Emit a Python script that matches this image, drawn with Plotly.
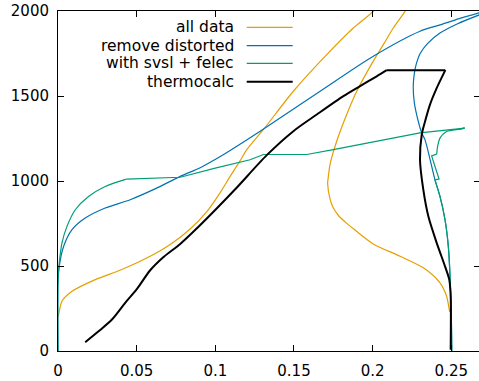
import plotly.graph_objects as go

# ---- data ----
all_data_x = [0.0, 0.0004, 0.0025, 0.0089, 0.0237, 0.0406, 0.0586, 0.0713, 0.0840, 0.0946, 0.1031,
              0.1094, 0.1158, 0.1200, 0.1306, 0.1496, 0.1708, 0.1877, 0.2004, 0.2020,
              None,
              0.2225, 0.2206, 0.2131, 0.2068, 0.2004, 0.1899, 0.1835, 0.1772, 0.1729, 0.1719, 0.1714,
              0.1729, 0.1748, 0.1780, 0.1830, 0.1890, 0.2004, 0.2174, 0.2322, 0.2428, 0.2470, 0.2487,
              0.2490]
all_data_y = [200, 214, 293, 351, 420, 479, 557, 626, 718, 820, 932,
              1027, 1120, 1184, 1303, 1528, 1743, 1900, 1998, 2020,
              None,
              2030, 1998, 1900, 1802, 1705, 1528, 1391, 1235, 1097, 1030, 985,
              895, 845, 800, 755, 710, 630, 557, 489, 401, 322, 244,
              230]

remove_x = [0.0, 0.0, 0.0008, 0.0036, 0.0089, 0.0173, 0.0300, 0.0459, 0.0620, 0.0777, 0.0904,
            0.0999, 0.1094, 0.1285, 0.1666, 0.2004, 0.2301, 0.2428, 0.2550, 0.2680,
            None,
            0.2680, 0.2540, 0.2428, 0.2350, 0.2302, 0.2275, 0.2263, 0.2258, 0.2265, 0.2280, 0.2312,
            0.2333, 0.2396, 0.2428, 0.2460, 0.2481, 0.2491, 0.2500, 0.2503]
remove_y = [0, 400, 498, 616, 714, 782, 841, 890, 955, 1027, 1078,
            1127, 1180, 1293, 1528, 1734, 1881, 1918, 1955, 1990,
            None,
            1978, 1925, 1870, 1810, 1750, 1680, 1620, 1546, 1460, 1389, 1282,
            1242, 1007, 909, 772, 616, 459, 200, 0]

svsl_x = [0.0, 0.0, 0.0008, 0.0025, 0.0057, 0.0110, 0.0194, 0.0300, 0.0435, 0.0777, 0.0999, 0.1221,
          0.1306, 0.1581, 0.1750, 0.2301, 0.2555, 0.2585,
          0.2555, 0.2470, 0.2428, 0.2413, 0.2407, 0.2375, 0.2422, 0.2396,
          0.2428, 0.2460, 0.2481, 0.2491, 0.2500, 0.2503]
svsl_y = [0, 420, 518, 635, 733, 831, 909, 968, 1011, 1022, 1076, 1125,
          1156, 1156, 1185, 1283, 1308, 1311,
          1305, 1291, 1252, 1203, 1158, 1148, 1011, 1007,
          909, 772, 616, 459, 200, 0]

thermo_x = [0.0173, 0.0258, 0.0343, 0.0427, 0.0502, 0.0586, 0.0671, 0.0777, 0.0883, 0.1010, 0.1137,
            0.1327, 0.1496, 0.1645, 0.1814, 0.1920, 0.2026, 0.2089, 0.2462,
            0.2407, 0.2364, 0.2333, 0.2312, 0.2301, 0.2322, 0.2354, 0.2407, 0.2460, 0.2487,
            0.2496, 0.2496]
thermo_y = [52, 116, 185, 283, 365, 475, 553, 630, 722, 840, 962,
            1152, 1293, 1391, 1499, 1558, 1616, 1652, 1652,
            1546, 1448, 1350, 1272, 1125, 949, 792, 636, 498, 420,
            322, 8]

series_names = ["all data", "remove distorted", "with svsl + felec", "thermocalc"]
series_colors = ["#e69f00", "#0072b2", "#009e73", "#000000"]
series_widths = [1.2, 1.2, 1.2, 2.0]

x_ticks = [0, 0.05, 0.1, 0.15, 0.2, 0.25]
x_tick_labels = ["0", "0.05", "0.1", "0.15", "0.2", "0.25"]
y_ticks = [0, 500, 1000, 1500, 2000]
y_tick_labels = ["0", "500", "1000", "1500", "2000"]

xs = [all_data_x, remove_x, svsl_x, thermo_x]
ys = [all_data_y, remove_y, svsl_y, thermo_y]

# pieces of each curve: (start index, end index inclusive, line shape)
pieces = [
    [(0, len(all_data_x) - 1, "spline")],
    [(0, len(remove_x) - 1, "spline")],
    [(0, 8, "spline"), (8, 18, "linear"), (17, 22, "spline"), (22, 25, "linear"),
     (25, len(svsl_x) - 1, "spline")],
    [(0, 17, "spline"), (17, 18, "linear"), (18, len(thermo_x) - 1, "spline")],
]

fig = go.Figure()
for x, y, name, c, w, segs in zip(xs, ys, series_names, series_colors, series_widths, pieces):
    for (a, b, shp) in segs:
        fig.add_trace(go.Scatter(x=x[a:b + 1], y=y[a:b + 1], mode="lines", name=name,
                                 line=dict(color=c, width=w, shape=shp, smoothing=0.8),
                                 showlegend=False, connectgaps=False))
# invisible trace to activate right-hand tick axis
fig.add_trace(go.Scatter(x=[None], y=[None], yaxis="y2", showlegend=False, hoverinfo="skip"))

W, H = 479, 381
L, R, T, B = 58, 0, 11, 30
pw, ph = W - L - R, H - T - B

def px2paper(px, py):
    return (px - L) / pw, (H - B - py) / ph

# manual legend (gnuplot style: text right-aligned, sample on the right)
rows_y = [27.3, 45.7, 63.3, 81.7]
for name, c, w, ry in zip(series_names, series_colors, series_widths, rows_y):
    tx, ty = px2paper(236, ry)
    fig.add_annotation(x=tx, y=ty, xref="paper", yref="paper", text=name,
                       showarrow=False, xanchor="right", yanchor="middle",
                       font=dict(family="DejaVu Sans", size=15.5, color="black"))
    x0, y0 = px2paper(246.7, ry)
    x1, _ = px2paper(292.7, ry)
    fig.add_shape(type="line", xref="paper", yref="paper", x0=x0, x1=x1, y0=y0, y1=y0,
                  line=dict(color=c, width=w))

axis_font = dict(family="DejaVu Sans", size=15, color="black")
fig.update_layout(
    width=W, height=H,
    margin=dict(l=L, r=R, t=T, b=B, pad=0),
    paper_bgcolor="white", plot_bgcolor="white",
    showlegend=False,
    xaxis=dict(range=[0, 0.2676], tickvals=x_ticks, ticktext=x_tick_labels,
               ticks="inside", ticklen=6, tickcolor="black", tickwidth=1,
               showline=True, linecolor="black", linewidth=1, mirror="ticks",
               showgrid=False, zeroline=False, tickfont=axis_font, ticklabelstandoff=6),
    yaxis=dict(range=[0, 2000], tickvals=y_ticks, ticktext=y_tick_labels,
               ticks="inside", ticklen=6, tickcolor="black", tickwidth=1,
               showline=True, linecolor="black", linewidth=1, mirror=False,
               showgrid=False, zeroline=False, tickfont=axis_font, ticklabelstandoff=5),
    yaxis2=dict(range=[0, 2000], tickvals=y_ticks, overlaying="y", side="right",
                ticks="inside", ticklen=5, tickcolor="black", tickwidth=1,
                showline=False, showticklabels=False, showgrid=False, zeroline=False),
)

fig.write_html("out.html")
